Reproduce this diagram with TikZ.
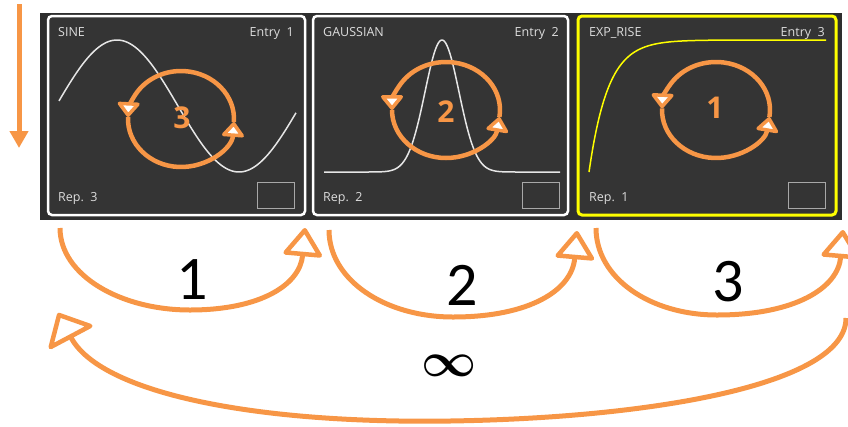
\RequirePackage{fix-cm}
\documentclass[tikz,border=0pt]{standalone}
\usepackage{fontspec}
\setmainfont{Carlito}
\newfontfamily\uifont{Open Sans}
\usetikzlibrary{arrows.meta}
\definecolor{orng}{HTML}{F79646}
\definecolor{panelbg}{HTML}{2E2E2E}
\definecolor{cardbg}{HTML}{343434}
\definecolor{txt}{HTML}{DDDDDD}
\definecolor{boxgray}{HTML}{A8A8A8}
\definecolor{curvec}{HTML}{E6E6E6}
\definecolor{ylw}{HTML}{FFFF00}
\begin{document}
\begin{tikzpicture}[x=1pt,y=-1pt,
  cardbox/.style={draw=white, line width=2.5pt, fill=cardbg, rounded corners=4pt, inner sep=0pt},
  lbl/.style={text=txt, font=\uifont\fontsize{12.5}{14}\selectfont, inner sep=0pt},
  smallbox/.style={draw=boxgray, line width=1pt, minimum width=37pt, minimum height=26pt, inner sep=0pt},
  loopline/.style={draw=orng, line width=4.5pt, -{Triangle[fill=white, length=16pt, width=25pt, line width=3.5pt, round]}},
  loopnum/.style={text=orng, font=\uifont\bfseries\fontsize{30}{30}\selectfont, inner sep=0pt},
  jumpline/.style={draw=orng, line width=5pt, -{Triangle[fill=white, length=30pt, width=42pt, line width=4.5pt, round]}},
  jumpnum/.style={text=black, font=\fontsize{62}{62}\selectfont, inner sep=0pt},
  infnum/.style={text=black, font=\fontsize{48}{48}\selectfont\boldmath, inner sep=0pt},
  sigline/.style={draw=curvec, line width=1.5pt}
]
\useasboundingbox (0,0) rectangle (848,426);
% left arrow
\coordinate (la1) at (19,4);
\coordinate (la2) at (19,148);
\draw[orng, line width=5pt, -{Triangle[length=17pt, width=18pt]}] (la1) -- (la2);
% panel
\fill[panelbg] (40,13) rectangle (842,220);
% cards
\node[cardbox, minimum width=257pt, minimum height=199pt] (c1) at (176.5,115.5) {};
\node[cardbox, minimum width=255pt, minimum height=199pt] (c2) at (440.5,115.5) {};
\node[cardbox, draw=ylw, line width=3pt, minimum width=258pt, minimum height=199pt] (c3) at (707,115.5) {};
% card texts
\node[lbl, anchor=base west] (n1) at (58,36) {SINE};
\node[lbl, anchor=base east] (e1) at (294,36) {Entry\ \ 1};
\node[lbl, anchor=base west] (r1) at (58,201) {Rep.\ \ 3};
\node[smallbox] (b1) at (276,195) {};
\node[lbl, anchor=base west] (n2) at (323,36) {GAUSSIAN};
\node[lbl, anchor=base east] (e2) at (559,36) {Entry\ \ 2};
\node[lbl, anchor=base west] (r2) at (323,201) {Rep.\ \ 2};
\node[smallbox] (b2) at (540.5,195) {};
\node[lbl, anchor=base west] (n3) at (589,36) {EXP\_RISE};
\node[lbl, anchor=base east] (e3) at (825,36) {Entry\ \ 3};
\node[lbl, anchor=base west] (r3) at (589,201) {Rep.\ \ 1};
\node[smallbox] (b3) at (806.5,195) {};
% curves
\draw[sigline] plot[domain=59:296, samples=120, smooth] (\x, {106-66*sin(1.47541*(\x-56))});
\draw[sigline] plot[domain=324:560, samples=160, smooth] (\x, {172-132*exp(-((\x-442)/17)^2/2)});
\draw[draw=ylw, line width=1.5pt] plot[domain=589:826, samples=120, smooth] (\x, {172-132*(1-exp(-(\x-589)/19))});
% inner loops
\coordinate (o1) at (181,119);
\coordinate (o2) at (446,110);
\coordinate (o3) at (716,110);
\draw[loopline] (o1) ++(3.6:53 and 48) arc[start angle=3.6, end angle=-177.6, x radius=53, y radius=48];
\draw[loopline] (o1) ++(182.4:53 and 48) arc[start angle=182.4, end angle=3.6, x radius=53, y radius=48];
\draw[loopline] (o2) ++(8.4:54 and 48) arc[start angle=8.4, end angle=-180, x radius=54, y radius=48];
\draw[loopline] (o2) ++(180:54 and 48) arc[start angle=180, end angle=8.4, x radius=54, y radius=48];
\draw[loopline] (o3) ++(8.4:54 and 48) arc[start angle=8.4, end angle=-178, x radius=54, y radius=48];
\draw[loopline] (o3) ++(182:54 and 48) arc[start angle=182, end angle=8.4, x radius=54, y radius=48];
\node[loopnum] (k1) at (182,118) {3};
\node[loopnum] (k2) at (446,112) {2};
\node[loopnum] (k3) at (715,108) {1};
% jumps
\coordinate (s1) at (60,228);
\coordinate (t1) at (305,228);
\coordinate (s2) at (329,230);
\coordinate (t2) at (577,231);
\coordinate (s3) at (596,228);
\coordinate (t3) at (843,230);
\coordinate (s4) at (846,318);
\coordinate (t4) at (58,313);
\draw[jumpline] (s1) .. controls (60,275) and (120,310) .. (190,310) .. controls (260,310) and (300,285) .. (t1);
\draw[jumpline] (s2) .. controls (329,280) and (385,317) .. (453,317) .. controls (530,317) and (572,290) .. (t2);
\draw[jumpline] (s3) .. controls (596,278) and (650,315) .. (717,315) .. controls (795,315) and (838,288) .. (t3);
\draw[draw=orng, line width=5pt, -{Triangle[fill=white, length=30pt, width=54pt, line width=4.5pt, round]}] (s4) .. controls (846,385) and (650,418) .. (450,421) .. controls (250,424) and (100,392) .. (t4);
\node[jumpnum] (j1) at (192,280) {1};
\node[jumpnum] (j2) at (462,285) {2};
\node[jumpnum] (j3) at (728,282) {3};
\node[infnum] (j4) at (449,366) {$\infty$};
\end{tikzpicture}
\end{document}
